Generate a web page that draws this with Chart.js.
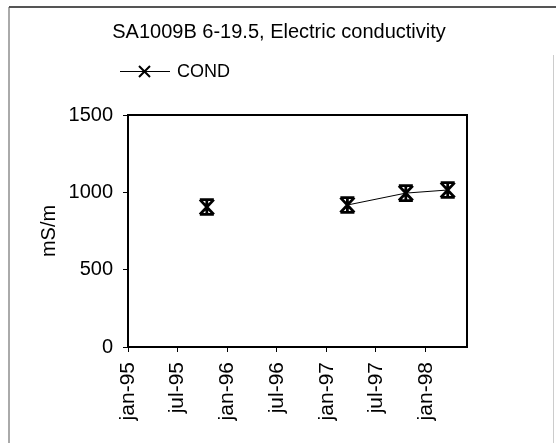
<!DOCTYPE html>
<html>
<head>
<meta charset="utf-8">
<script src="https://cdn.jsdelivr.net/npm/chart.js@4/dist/chart.umd.min.js"></script>
<style>
  body { margin: 0; background: #fff; }
  #wrap { width: 556px; height: 443px; }
</style>
</head>
<body>
<div id="wrap"><canvas id="condChart" width="556" height="443"></canvas></div>
<script>
// data
const sampleDates = ['1995-10-18', '1997-03-18', '1997-10-19', '1998-03-22'];
const condValues = [905, 918, 995, 1015];
const condErrors = [48, 48, 48, 48];
const tickDates = ['1995-01-01', '1995-07-01', '1996-01-01', '1996-07-01', '1997-01-01', '1997-07-01', '1998-01-01'];
const tickLabels = ['jan-95', 'jul-95', 'jan-96', 'jul-96', 'jan-97', 'jul-97', 'jan-98'];
const axisStart = '1995-01-01';
const axisEnd = '1998-06-01';

const FONT = 'Liberation Sans, Arial, sans-serif';
const DAY = 86400000;
const t0 = Date.parse(axisStart);
const toDays = d => (Date.parse(d) - t0) / DAY;

const points = sampleDates.map((d, i) => ({ x: toDays(d), y: condValues[i] }));

// frame, title and legend
const decorPlugin = {
  id: 'decor',
  beforeDraw(chart) {
    const c = chart.ctx;
    c.save();
    c.strokeStyle = '#aaa';
    c.lineWidth = 2;
    c.beginPath();
    c.moveTo(9, 443); c.lineTo(9, 7);
    c.stroke();
    c.strokeStyle = '#555';
    c.beginPath();
    c.moveTo(9, 7); c.lineTo(556, 7);
    c.stroke();
    c.strokeStyle = '#ccc';
    c.lineWidth = 1;
    c.beginPath();
    c.moveTo(553.5, 55); c.lineTo(553.5, 443);
    c.stroke();

    c.fillStyle = '#000';
    c.font = '20px ' + FONT;
    c.textAlign = 'center';
    c.textBaseline = 'middle';
    c.fillText('SA1009B 6-19.5, Electric conductivity', 279, 32);

    // legend entry
    c.strokeStyle = '#000';
    c.lineWidth = 1;
    c.beginPath();
    c.moveTo(120, 71.5); c.lineTo(170, 71.5);
    c.stroke();
    c.lineWidth = 2;
    c.beginPath();
    c.moveTo(139, 66); c.lineTo(150, 77);
    c.moveTo(150, 66); c.lineTo(139, 77);
    c.stroke();
    c.font = '18px ' + FONT;
    c.textAlign = 'left';
    c.fillText('COND', 177, 72);
    c.restore();
  },
  afterDatasetsDraw(chart) {
    const c = chart.ctx;
    const xs = chart.scales.x, ys = chart.scales.y;
    const a = chart.chartArea;
    c.save();
    // plot box
    c.strokeStyle = '#000';
    c.lineWidth = 2;
    c.strokeRect(a.left, a.top, a.right - a.left, a.bottom - a.top);
    // error bars with caps
    c.lineWidth = 2.8;
    points.forEach((p, i) => {
      const px = xs.getPixelForValue(p.x);
      const top = ys.getPixelForValue(p.y + condErrors[i]);
      const bot = ys.getPixelForValue(p.y - condErrors[i]);
      c.beginPath();
      c.moveTo(px, top); c.lineTo(px, bot);
      c.moveTo(px - 7, top); c.lineTo(px + 7, top);
      c.moveTo(px - 7, bot); c.lineTo(px + 7, bot);
      c.moveTo(px - 7, top); c.lineTo(px + 7, bot);
      c.moveTo(px + 7, top); c.lineTo(px - 7, bot);
      c.stroke();
    });
    c.restore();
  }
};

const ctx = document.getElementById('condChart').getContext('2d');
new Chart(ctx, {
  type: 'line',
  data: {
    datasets: [{
      label: 'COND',
      data: points,
      borderColor: '#000',
      borderWidth: 1,
      pointStyle: 'crossRot',
      pointRadius: 0,
      fill: false,
      tension: 0,
      segment: {
        // no line across the long gap in sampling
        borderColor: s => (s.p1.parsed.x - s.p0.parsed.x > 365 ? 'rgba(0,0,0,0)' : '#000')
      }
    }]
  },
  options: {
    responsive: false,
    animation: false,
    layout: { padding: { top: 115, right: 89, left: 37, bottom: 0 } },
    plugins: {
      legend: { display: false },
      title: { display: false },
      tooltip: { enabled: false }
    },
    scales: {
      x: {
        type: 'linear',
        min: 0,
        max: toDays(axisEnd),
        afterBuildTicks: s => { s.ticks = tickDates.map(d => ({ value: toDays(d) })); },
        afterFit: s => { s.height = 96; },
        grid: { drawOnChartArea: false, drawTicks: true, tickLength: 5, color: '#000' },
        border: { color: '#000', width: 1 },
        ticks: {
          color: '#000',
          font: { family: FONT, size: 21 },
          minRotation: 90,
          maxRotation: 90,
          padding: 10,
          autoSkip: false,
          callback: (v) => {
            const i = tickDates.findIndex(d => Math.abs(toDays(d) - v) < 0.5);
            return i >= 0 ? tickLabels[i] : '';
          }
        }
      },
      y: {
        min: 0,
        max: 1500,
        afterFit: s => { s.width = 91; },
        grid: { drawOnChartArea: false, drawTicks: true, tickLength: 5, color: '#000' },
        border: { color: '#000', width: 1 },
        ticks: {
          stepSize: 500,
          color: '#000',
          font: { family: FONT, size: 20 },
          padding: 10,
          callback: v => String(v)
        },
        title: {
          display: true,
          text: 'mS/m',
          color: '#000',
          font: { family: FONT, size: 20 },
          padding: 0
        }
      }
    }
  },
  plugins: [decorPlugin]
});
</script>
</body>
</html>
